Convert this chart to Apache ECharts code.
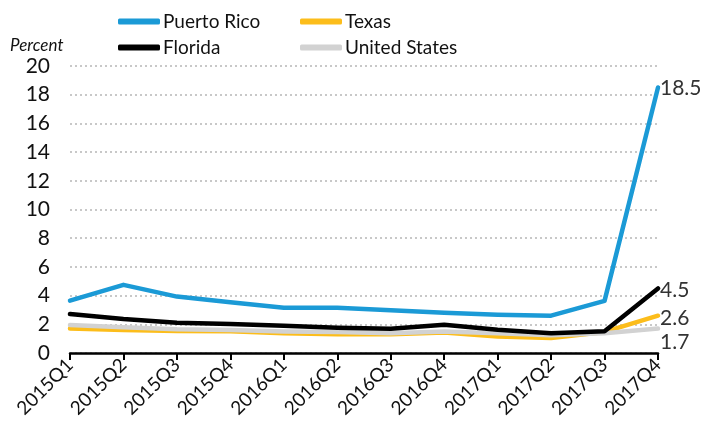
<!DOCTYPE html>
<html><head><meta charset="utf-8">
<script src="https://cdn.jsdelivr.net/npm/echarts@6/dist/echarts.min.js"></script>
<style>html,body{margin:0;padding:0;background:#fff}#c{width:701px;height:428px}</style>
</head><body><div id="c"></div>
<script>
const categories = ['2015Q1','2015Q2','2015Q3','2015Q4','2016Q1','2016Q2','2016Q3','2016Q4','2017Q1','2017Q2','2017Q3','2017Q4'];
const puertoRico = [3.65, 4.75, 3.93, 3.54, 3.16, 3.15, 2.98, 2.81, 2.67, 2.6, 3.63, 18.5];
const texas = [1.7, 1.6, 1.53, 1.52, 1.38, 1.3, 1.3, 1.42, 1.15, 1.05, 1.47, 2.6];
const florida = [2.72, 2.37, 2.11, 2.02, 1.9, 1.76, 1.69, 1.97, 1.62, 1.38, 1.51, 4.5];
const unitedStates = [1.95, 1.8, 1.65, 1.6, 1.5, 1.47, 1.38, 1.5, 1.38, 1.24, 1.38, 1.7];
const yTicks = [0, 2, 4, 6, 8, 10, 12, 14, 16, 18, 20];

const FONT = 'Lato, "Open Sans", sans-serif';
const colors = {pr:'#1b9ad6', tx:'#fcbd1b', fl:'#000000', us:'#d2d2d2'};

function mkSeries(name, data, color, z, labelOffset) {
  return {
    name, type:'line', data, z, symbol:'none', smooth:false,
    lineStyle:{color, width:4.5, cap:'round', join:'round'},
    itemStyle:{color},
    endLabel:{show:true, formatter: p => p.value.toFixed(1), color:'#333', fontFamily:FONT, fontSize:21, offset:labelOffset, distance:2},
    emphasis:{disabled:true}
  };
}
function mkLegend(name, left, top) {
  return {data:[name], left, top, icon:'roundRect', itemWidth:42, itemHeight:6, itemGap:0,
    padding:0, textStyle:{fontFamily:FONT, fontSize:19, color:'#111', padding:[0,0,0,-2]}, selectedMode:false};
}
const chart = echarts.init(document.getElementById('c'), null, {renderer:'canvas'});
chart.setOption({
  animation:false,
  color:[colors.pr, colors.tx, colors.fl, colors.us],
  legend:[mkLegend('Puerto Rico',118,12), mkLegend('Texas',300,12), mkLegend('Florida',118,38), mkLegend('United States',300,38)],
  grid:{left:70, right:43, top:66, bottom:75},
  graphic:[{type:'text', left:10, top:37, style:{text:'Percent', font:'italic 17px Lato', fill:'#111'}}],
  xAxis:{type:'category', data:categories, boundaryGap:false,
    axisLine:{lineStyle:{color:'#000', width:2.5}},
    axisTick:{show:true, alignWithLabel:true, length:7, lineStyle:{color:'#000', width:2}},
    axisLabel:{rotate:45, fontFamily:FONT, fontSize:19, color:'#111', margin:9, interval:0}},
  yAxis:{type:'value', min:0, max:20, interval:2,
    axisLine:{show:false}, axisTick:{show:false},
    axisLabel:{fontFamily:FONT, fontSize:21, color:'#111', margin:20, formatter: v => yTicks.includes(v) ? String(v) : ''},
    splitLine:{lineStyle:{color:'#c8c8c8', width:2, type:[2,3]}}},
  series:[
    mkSeries('Texas', texas, colors.tx, 2, [0,3]),
    mkSeries('United States', unitedStates, colors.us, 3, [0,14]),
    mkSeries('Florida', florida, colors.fl, 4, [0,2]),
    mkSeries('Puerto Rico', puertoRico, colors.pr, 5, [0,1])
  ]
});
</script></body></html>
